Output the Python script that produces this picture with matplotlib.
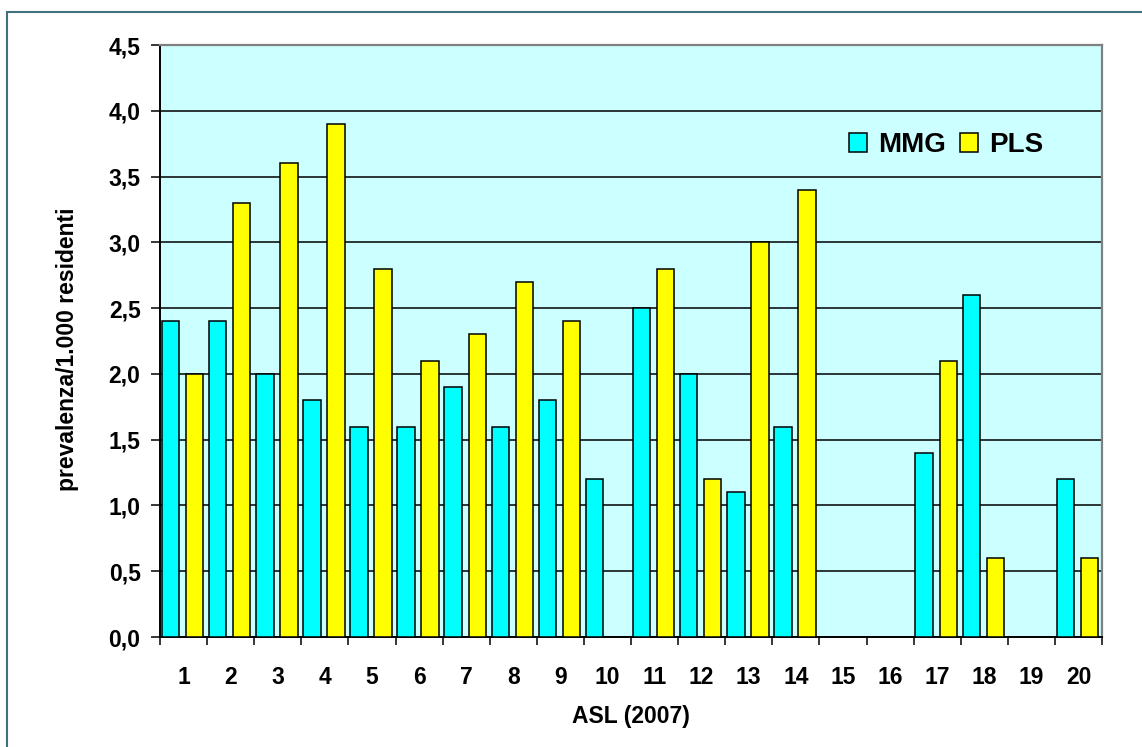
import numpy as np
import matplotlib
matplotlib.use('Agg')
import matplotlib.pyplot as plt
from matplotlib.patches import Rectangle

plt.rcParams['font.family'] = ['Liberation Sans', 'DejaVu Sans']
plt.rcParams['font.weight'] = 'bold'

# dati (nan = nessuna barra)
asl = np.arange(1, 21)
mmg = np.array([2.4, 2.4, 2.0, 1.8, 1.6, 1.6, 1.9, 1.6, 1.8, 1.2,
                2.5, 2.0, 1.1, 1.6, np.nan, np.nan, 1.4, 2.6, np.nan, 1.2])
pls = np.array([2.0, 3.3, 3.6, 3.9, 2.8, 2.1, 2.3, 2.7, 2.4, np.nan,
                2.8, 1.2, 3.0, 3.4, np.nan, np.nan, 2.1, 0.6, np.nan, 0.6])
yticks = np.arange(0, 4.51, 0.5)

fig = plt.figure(figsize=(11.42, 7.47), dpi=100)
ax = fig.add_axes([160/1142, 1-637/747, 942/1142, 592/747])
ax.set_facecolor('#CCFFFF')

w = 0.37
ok = ~np.isnan(mmg)
ax.bar(asl[ok] - 0.275, mmg[ok], w, color='#00FFFF', edgecolor='black', lw=1.1, label='MMG', zorder=3)
ok = ~np.isnan(pls)
ax.bar(asl[ok] + 0.235, pls[ok], w, color='#FFFF00', edgecolor='black', lw=1.1, label='PLS', zorder=3)

ax.set_xlim(0.5, 20.5)
ax.set_ylim(0, 4.5)
ax.set_yticks(yticks)
ax.set_yticklabels([f'{v:.1f}'.replace('.', ',') for v in yticks])
ax.yaxis.grid(True, color='black', lw=1.1, zorder=1)
ax.set_axisbelow(True)

ax.set_xticks(asl)
ax.set_xticklabels([str(a) for a in asl])
ax.set_xticks(np.arange(0.5, 20.6, 1), minor=True)
ax.tick_params(axis='x', which='major', length=0, pad=21, labelsize=16.5)
ax.tick_params(axis='x', which='minor', length=6, width=1.1, direction='out')
ax.tick_params(axis='y', length=6.5, width=1.1, pad=7.5, labelsize=16.5)

for s in ['left', 'bottom']:
    ax.spines[s].set_color('black')
    ax.spines[s].set_linewidth(1.4)
for s in ['top', 'right']:
    ax.spines[s].set_color('#808080')
    ax.spines[s].set_linewidth(1.6)

ax.set_xlabel('ASL (2007)', fontsize=16.5, fontweight='bold', va='center')
ax.xaxis.set_label_coords(0.5, (637-716)/592)
ax.set_ylabel('prevalenza/1.000 residenti', fontsize=16.5, fontweight='bold', va='center')
ax.yaxis.set_label_coords((67.5-160)/942, (637-349.5)/592)

leg = ax.legend(ncol=2, loc='center', bbox_to_anchor=(946.5/1142, 1-145/747),
                bbox_transform=fig.transFigure, frameon=False,
                prop={'size': 20, 'weight': 'bold'}, handlelength=0.65,
                handleheight=0.65, handletextpad=0.4, columnspacing=0.5)

# cornice esterna
fig.patches.append(Rectangle((7/1142, -0.1), 1.2, 1-12/747+0.1, transform=fig.transFigure,
                             fill=False, edgecolor='#41717F', lw=1.5))

plt.savefig('out.png', dpi=100)
